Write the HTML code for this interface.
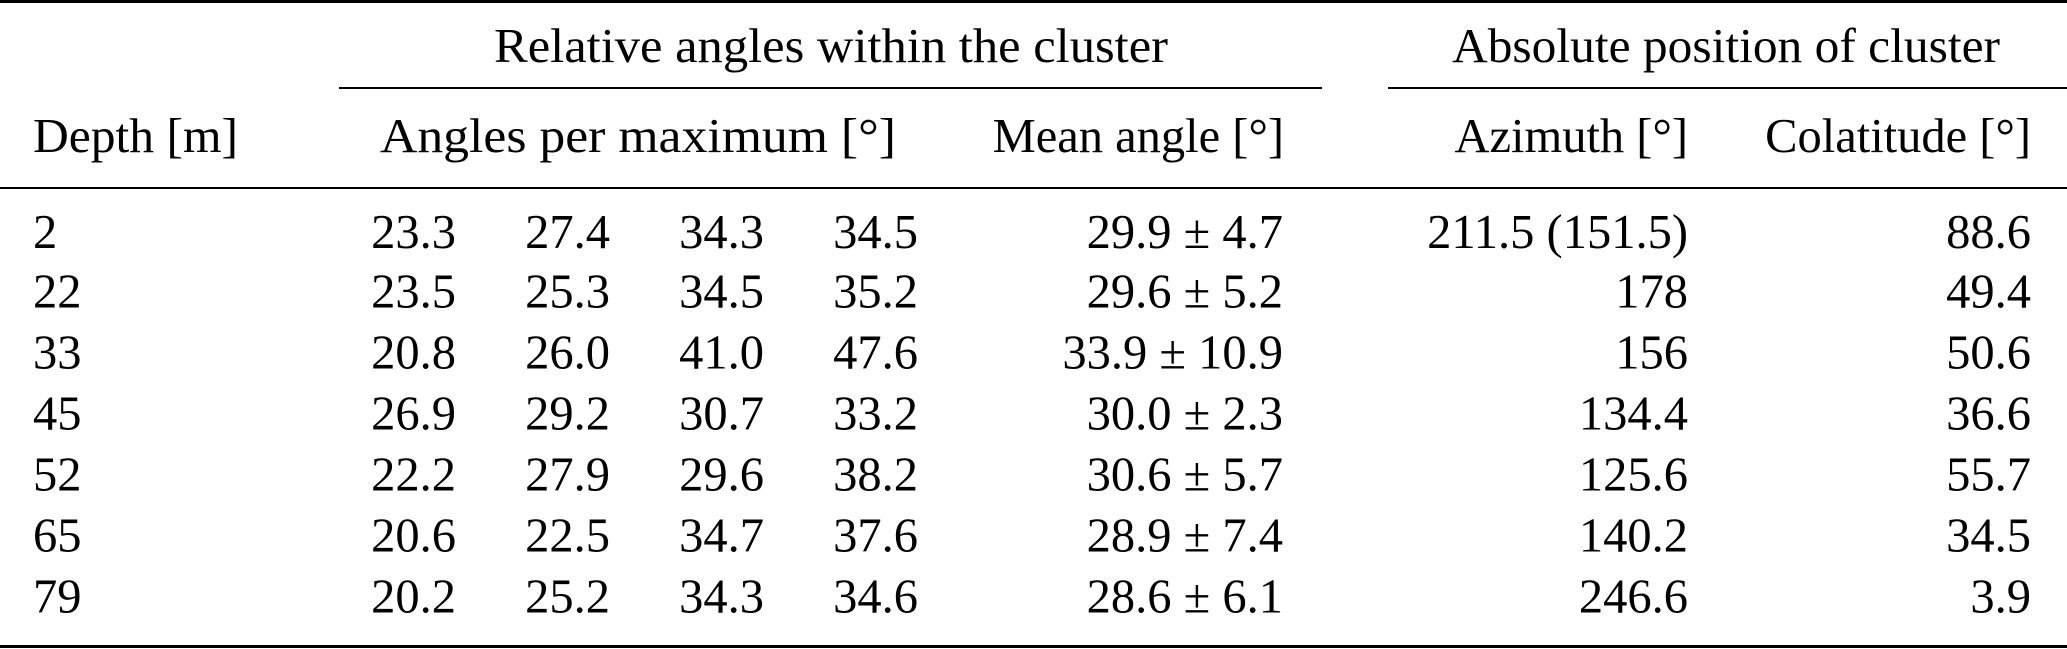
<!DOCTYPE html>
<html><head><meta charset="utf-8"><style>
html,body{margin:0;padding:0;background:#fff;}
svg{display:block;}
text{font-family:"Liberation Serif",serif;font-size:48.5px;fill:#000;}
</style></head><body>
<svg width="2067" height="649" viewBox="0 0 2067 649" xmlns="http://www.w3.org/2000/svg">
<rect x="0" y="0" width="2067" height="3" fill="#000"/>
<rect x="339" y="87" width="983" height="2" fill="#000"/>
<rect x="1388" y="87" width="679" height="2" fill="#000"/>
<rect x="0" y="187" width="2067" height="2" fill="#000"/>
<rect x="0" y="645" width="2067" height="3" fill="#000"/>
<text x="494" y="62" textLength="674" lengthAdjust="spacingAndGlyphs">Relative angles within the cluster</text>
<text x="1452" y="62" textLength="548" lengthAdjust="spacingAndGlyphs">Absolute position of cluster</text>
<text x="33" y="152" textLength="205" lengthAdjust="spacingAndGlyphs">Depth [m]</text>
<text x="380" y="152" textLength="516" lengthAdjust="spacingAndGlyphs">Angles per maximum [°]</text>
<text x="1284" y="152" text-anchor="end">Mean angle [°]</text>
<text x="1688" y="152" text-anchor="end">Azimuth [°]</text>
<text x="2031" y="152" text-anchor="end">Colatitude [°]</text>
<g transform="translate(0,248)"><text x="33">2</text><text x="456" text-anchor="end">23.3</text><text x="610" text-anchor="end">27.4</text><text x="764" text-anchor="end">34.3</text><text x="918" text-anchor="end">34.5</text><text x="1283" text-anchor="end">29.9 ± 4.7</text><text x="1688" text-anchor="end">211.5 (151.5)</text><text x="2031" text-anchor="end">88.6</text></g>
<g transform="translate(0,307.5)"><text x="33">22</text><text x="456" text-anchor="end">23.5</text><text x="610" text-anchor="end">25.3</text><text x="764" text-anchor="end">34.5</text><text x="918" text-anchor="end">35.2</text><text x="1283" text-anchor="end">29.6 ± 5.2</text><text x="1688" text-anchor="end">178</text><text x="2031" text-anchor="end">49.4</text></g>
<g transform="translate(0,368.5)"><text x="33">33</text><text x="456" text-anchor="end">20.8</text><text x="610" text-anchor="end">26.0</text><text x="764" text-anchor="end">41.0</text><text x="918" text-anchor="end">47.6</text><text x="1283" text-anchor="end">33.9 ± 10.9</text><text x="1688" text-anchor="end">156</text><text x="2031" text-anchor="end">50.6</text></g>
<g transform="translate(0,429.5)"><text x="33">45</text><text x="456" text-anchor="end">26.9</text><text x="610" text-anchor="end">29.2</text><text x="764" text-anchor="end">30.7</text><text x="918" text-anchor="end">33.2</text><text x="1283" text-anchor="end">30.0 ± 2.3</text><text x="1688" text-anchor="end">134.4</text><text x="2031" text-anchor="end">36.6</text></g>
<g transform="translate(0,490.5)"><text x="33">52</text><text x="456" text-anchor="end">22.2</text><text x="610" text-anchor="end">27.9</text><text x="764" text-anchor="end">29.6</text><text x="918" text-anchor="end">38.2</text><text x="1283" text-anchor="end">30.6 ± 5.7</text><text x="1688" text-anchor="end">125.6</text><text x="2031" text-anchor="end">55.7</text></g>
<g transform="translate(0,551.5)"><text x="33">65</text><text x="456" text-anchor="end">20.6</text><text x="610" text-anchor="end">22.5</text><text x="764" text-anchor="end">34.7</text><text x="918" text-anchor="end">37.6</text><text x="1283" text-anchor="end">28.9 ± 7.4</text><text x="1688" text-anchor="end">140.2</text><text x="2031" text-anchor="end">34.5</text></g>
<g transform="translate(0,612.5)"><text x="33">79</text><text x="456" text-anchor="end">20.2</text><text x="610" text-anchor="end">25.2</text><text x="764" text-anchor="end">34.3</text><text x="918" text-anchor="end">34.6</text><text x="1283" text-anchor="end">28.6 ± 6.1</text><text x="1688" text-anchor="end">246.6</text><text x="2031" text-anchor="end">3.9</text></g>
</svg>
</body></html>
